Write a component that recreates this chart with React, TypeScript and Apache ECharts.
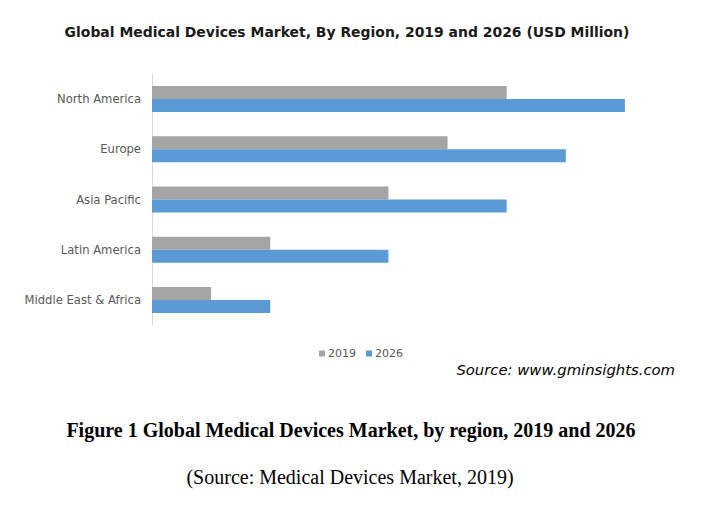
import React, { useEffect, useRef } from "react";
import * as echarts from "echarts";

const regions = ["North America", "Europe", "Asia Pacific", "Latin America", "Middle East & Africa"];
const values2019 = [6, 5, 4, 2, 1];
const values2026 = [8, 7, 6, 4, 2];
const seriesNames = ["2019", "2026"];

export default function App() {
  const ref = useRef<HTMLDivElement>(null);
  useEffect(() => {
    if (!ref.current) return;
    const chart = echarts.init(ref.current, undefined, { renderer: "svg" });
    chart.setOption({
      animation: false,
      backgroundColor: "#ffffff",
      title: {
        text: "Global Medical Devices Market, By Region, 2019 and 2026 (USD Million)",
        left: 342,
        textAlign: "center",
        top: 20,
        textStyle: { fontFamily: "DejaVu Sans", fontSize: 13.95, fontWeight: "bold", color: "#1a1a1a" },
      },
      legend: {
        data: seriesNames,
        left: 314,
        top: 343,
        icon: "rect",
        itemWidth: 6,
        itemHeight: 6,
        itemGap: 10,
        textStyle: { fontFamily: "DejaVu Sans", fontSize: 11, color: "#595959", padding: [0, 0, 0, -2] },
      },
      grid: { left: 152, top: 74, width: 532, height: 251, containLabel: false },
      xAxis: {
        type: "value",
        min: 0,
        max: 9,
        show: false,
      },
      yAxis: {
        type: "category",
        data: regions,
        inverse: true,
        axisLine: { show: true, lineStyle: { color: "#d9d9d9", width: 1 } },
        axisTick: { show: false },
        axisLabel: { fontFamily: "DejaVu Sans", fontSize: 11.6, color: "#595959", margin: 11 },
      },
      series: [
        {
          name: seriesNames[0],
          type: "bar",
          data: values2019,
          barWidth: 13,
          barGap: "0%",
          itemStyle: { color: "#a5a5a5" },
        },
        {
          name: seriesNames[1],
          type: "bar",
          data: values2026,
          barWidth: 13,
          barGap: "0%",
          itemStyle: { color: "#5b9bd5" },
        },
      ],
      graphic: [
        {
          type: "text",
          right: 42,
          top: 362,
          style: {
            text: "Source: www.gminsights.com",
            fontFamily: "DejaVu Sans",
            fontStyle: "italic",
            fontSize: 14.8,
            fill: "#000000",
          },
        },
        {
          type: "text",
          x: 351,
          y: 430,
          style: {
            text: "Figure 1 Global Medical Devices Market, by region, 2019 and 2026",
            fontFamily: "Liberation Serif",
            fontWeight: "bold",
            fontSize: 20,
            fill: "#000000",
            align: "center",
            verticalAlign: "middle",
          },
        },
        {
          type: "text",
          x: 350,
          y: 477,
          style: {
            text: "(Source: Medical Devices Market, 2019)",
            fontFamily: "Liberation Serif",
            fontSize: 20,
            fill: "#000000",
            align: "center",
            verticalAlign: "middle",
          },
        },
      ],
    });
    return () => chart.dispose();
  }, []);
  return (
    <div
      ref={ref}
      style={{ position: "absolute", left: 0, top: 0, width: 717, height: 506 }}
    />
  );
}
